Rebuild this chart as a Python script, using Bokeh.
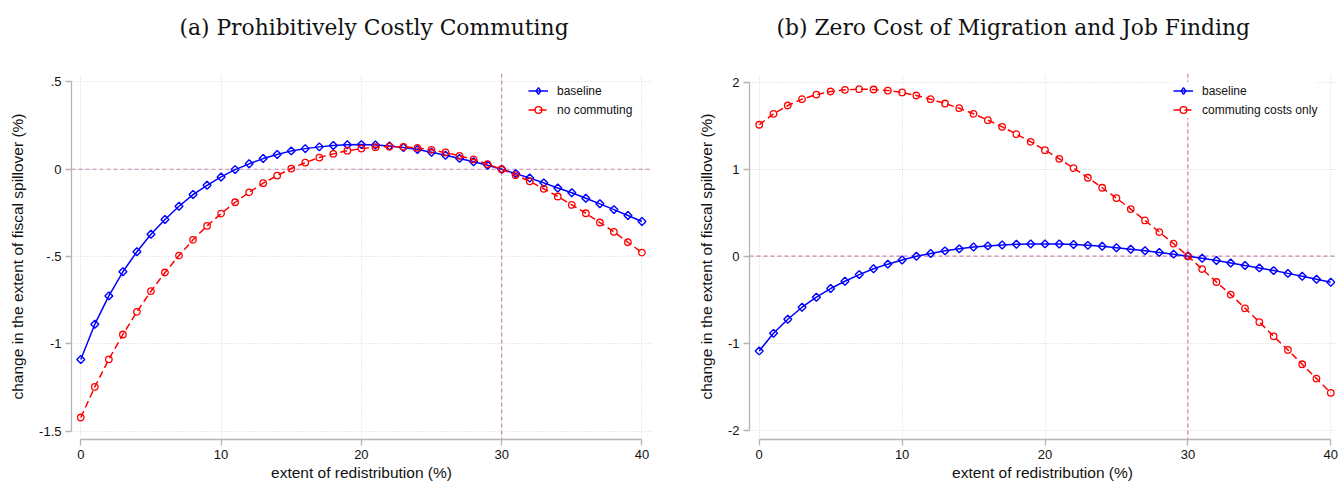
from math import pi, nan
from bokeh.plotting import figure
from bokeh.models import Span, Legend, LegendItem, FixedTicker, Range1d, Title, ColumnDataSource
from bokeh.layouts import row
from bokeh.embed import file_html
from bokeh.resources import INLINE

# extent of redistribution (%)
redistribution = list(range(0, 41))

# change in the extent of fiscal spillover (%)
baseline = [
    -1.089, -0.887, -0.725, -0.587, -0.472, -0.372, -0.288, -0.212, -0.145, -0.092,
    -0.044, -0.002, 0.031, 0.061, 0.084, 0.105, 0.118, 0.128, 0.136, 0.140,
    0.141, 0.139, 0.133, 0.124, 0.113, 0.097, 0.080, 0.062, 0.043, 0.023,
    0.000, -0.025, -0.050, -0.078, -0.107, -0.135, -0.166, -0.198, -0.231, -0.265,
    -0.299,
]
no_commuting = [
    -1.421, -1.246, -1.088, -0.946, -0.816, -0.698, -0.591, -0.494, -0.404, -0.324,
    -0.254, -0.189, -0.132, -0.080, -0.036, 0.004, 0.038, 0.067, 0.088, 0.106,
    0.118, 0.126, 0.130, 0.128, 0.122, 0.111, 0.096, 0.077, 0.056, 0.029,
    0.000, -0.034, -0.069, -0.112, -0.156, -0.204, -0.252, -0.305, -0.358, -0.418,
    -0.477,
]
commuting_costs_only = [
    1.510, 1.636, 1.731, 1.804, 1.857, 1.892, 1.911, 1.919, 1.915, 1.903,
    1.881, 1.846, 1.804, 1.754, 1.700, 1.636, 1.563, 1.486, 1.402, 1.314,
    1.218, 1.119, 1.012, 0.901, 0.786, 0.667, 0.541, 0.411, 0.277, 0.143,
    0.000, -0.148, -0.297, -0.442, -0.599, -0.757, -0.921, -1.078, -1.242, -1.407,
    -1.571,
]

x_ticks = [0, 10, 20, 30, 40]
left_y_ticks = [-1.5, -1, -0.5, 0, 0.5]
left_y_labels = ["-1.5", "-1", "-.5", "0", ".5"]
right_y_ticks = [-2, -1, 0, 1, 2]
right_y_labels = ["-2", "-1", "0", "1", "2"]

x_title = "extent of redistribution (%)"
y_title = "change in the extent of fiscal spillover (%)"
ref_x = 30
ref_y = 0

BLUE = "#0000ff"
RED = "#ff0000"
REF = "#c982b2"
GRID = "#d6d6d6"
AXIS = "#b4b4b4"
SANS = "Liberation Sans"


def panel(title, title_offset, width, border_left, border_right, x_range, y_range,
          y_ticks, y_labels, other, other_label, legend_loc):
    p = figure(width=width, height=483, output_backend="svg", toolbar_location=None,
               x_range=Range1d(*x_range), y_range=Range1d(*y_range),
               min_border_left=border_left, min_border_right=border_right,
               min_border_top=73, min_border_bottom=44,
               background_fill_color="white", border_fill_color="white",
               outline_line_color=None)

    # panel caption, lifted off the plot area by an empty spacer title
    p.title.text = title
    p.title.text_font = "DejaVu Serif"
    p.title.text_font_size = "21.8px"
    p.title.text_font_style = "normal"
    p.title.text_color = "#111111"
    p.title.align = "left"
    p.title.offset = title_offset
    p.title.standoff = 0
    p.add_layout(Title(text=" ", text_font_size="20px", standoff=10), "above")

    # axes
    p.xaxis.ticker = FixedTicker(ticks=x_ticks)
    p.yaxis.ticker = FixedTicker(ticks=y_ticks)
    p.yaxis.major_label_overrides = dict(zip(y_ticks, y_labels))
    p.xaxis.bounds = (x_ticks[0], x_ticks[-1])
    p.yaxis.bounds = (y_ticks[0], y_ticks[-1])
    p.xaxis.axis_label = x_title
    p.yaxis.axis_label = y_title
    for ax in (p.xaxis, p.yaxis):
        ax.axis_line_color = AXIS
        ax.axis_line_width = 1.3
        ax.major_tick_line_color = AXIS
        ax.major_tick_line_width = 1.3
        ax.major_tick_out = 6
        ax.major_tick_in = 0
        ax.minor_tick_out = 0
        ax.minor_tick_in = 0
        ax.major_label_text_font = SANS
        ax.major_label_text_font_size = "13px"
        ax.major_label_text_color = "#111111"
        ax.major_label_standoff = 4
        ax.axis_label_text_font = SANS
        ax.axis_label_text_font_size = "15.5px"
        ax.axis_label_text_font_style = "normal"
        ax.axis_label_text_color = "#111111"
    p.xaxis.axis_label_standoff = 2
    p.yaxis.axis_label_standoff = 10

    # dotted grid
    p.xgrid.ticker = FixedTicker(ticks=x_ticks)
    p.ygrid.ticker = FixedTicker(ticks=y_ticks)
    for g in (p.xgrid, p.ygrid):
        g.grid_line_color = GRID
        g.grid_line_dash = "1 2"
        g.grid_line_width = 1

    # reference lines
    p.add_layout(Span(location=ref_y, dimension="width", line_color=REF,
                      line_dash="4 3", line_width=1.2, level="underlay"))
    p.add_layout(Span(location=ref_x, dimension="height", line_color=REF,
                      line_dash="4 3", line_width=1.2, level="underlay"))

    # series: blue hollow diamonds (squares turned 45 degrees), red hollow circles
    bl = p.line(redistribution, baseline, line_color=BLUE, line_width=1.5)
    p.scatter(redistribution, baseline, marker="square", angle=pi / 4, size=5.6,
              line_color=BLUE, line_width=1.4, fill_color=None)
    ol = p.line(redistribution, other, line_color=RED, line_width=1.5, line_dash="7 4")
    os_ = p.scatter(redistribution, other, marker="circle", size=6.5,
                    line_color=RED, line_width=1.3, fill_color=None)

    # legend key for the diamonds (legend keys are never rotated); it plots nothing
    key = p.scatter(x="x", y="y", source=ColumnDataSource(dict(x=[nan], y=[nan])),
                    marker="diamond", line_color=BLUE, line_width=1.4, fill_color=None)

    legend = Legend(items=[LegendItem(label="baseline", renderers=[bl, key]),
                           LegendItem(label=other_label, renderers=[ol, os_])],
                    location=legend_loc, background_fill_color="white",
                    background_fill_alpha=1.0, border_line_color=None,
                    padding=5, spacing=2, margin=0,
                    glyph_width=20, glyph_height=17, label_height=16,
                    label_standoff=9, label_text_font=SANS,
                    label_text_font_size="12px", label_text_color="#111111")
    p.add_layout(legend)
    return p


p1 = panel("(a) Prohibitively Costly Commuting", 108, 669, 71, 18,
           (-0.663, 40.68), (-1.547, 0.548), left_y_ticks, left_y_labels,
           no_commuting, "no commuting", (457, 321))
p2 = panel("(b) Zero Cost of Migration and Job Finding", 27, 669, 80, 3,
           (-0.68, 40.33), (-2.107, 2.099), right_y_ticks, right_y_labels,
           commuting_costs_only, "commuting costs only", (424, 321))

layout = row(p1, p2)
open("out.html", "w").write(file_html(layout, INLINE))
